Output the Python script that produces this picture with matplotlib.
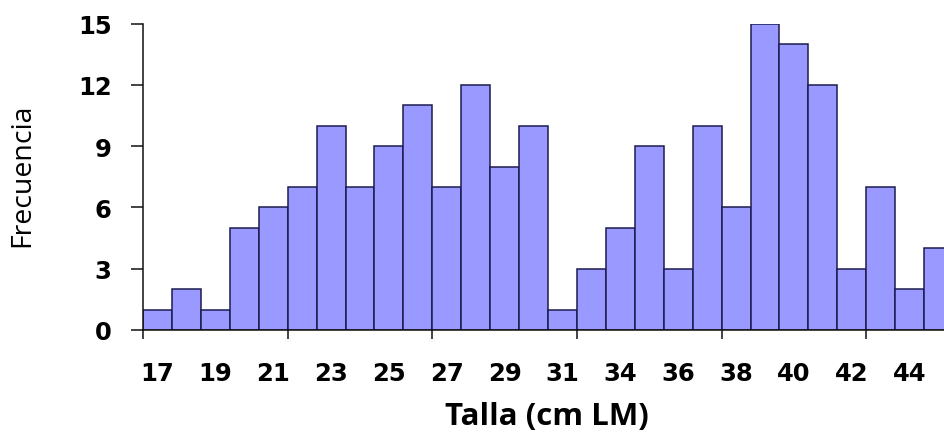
import matplotlib
matplotlib.use("Agg")
import matplotlib.pyplot as plt
import numpy as np

categories = ["17", "18", "19", "20", "21", "22", "23", "24", "25", "26", "27", "28",
              "29", "30", "31", "33", "34", "35", "36", "37", "38", "39", "40", "41",
              "42", "43", "44", "45"]
values = [1, 2, 1, 5, 6, 7, 10, 7, 9, 11, 7, 12, 8, 10, 1, 3, 5, 9, 3, 10, 6, 15,
          14, 12, 3, 7, 2, 4]
yticks = [0, 3, 6, 9, 12, 15]

W, H = 944, 439
fig = plt.figure(figsize=(W / 100, H / 100), dpi=100)
left_px, right_px, top_px, bot_px = 143, 944, 24.7, 331
ax = fig.add_axes([left_px / W, 1 - bot_px / H, (right_px - left_px) / W, (bot_px - top_px) / H])

x = np.arange(len(values))
ax.bar(x, values, width=1.0, color="#9999ff", edgecolor="#1c1c50", linewidth=1.1)

barw = 28.93
ax.set_xlim(-0.5, -0.5 + (right_px - left_px) / barw)
ax.set_ylim(0, 15)

ax.spines["top"].set_visible(False)
ax.spines["right"].set_visible(False)
for s in ("left", "bottom"):
    ax.spines[s].set_linewidth(1.1)
    ax.spines[s].set_color("#111111")

ax.set_yticks(yticks)
ax.set_yticklabels([str(v) for v in yticks], fontsize=17.5, fontweight="bold",
                   family="DejaVu Sans")
ax.tick_params(axis="y", length=8.6, width=1.1, pad=14, color="#111111")

lab_pos = x[::2]
ax.set_xticks(lab_pos)
ax.set_xticklabels([categories[i] for i in lab_pos], fontsize=17.5, fontweight="bold",
                   family="DejaVu Sans")
ax.tick_params(axis="x", which="major", length=0, pad=22)
ax.set_xticks(np.arange(-0.5, len(values), 5), minor=True)
ax.tick_params(axis="x", which="minor", length=6.5, width=1.1, color="#111111")

fig.text(547 / W, 1 - 417 / H, "Talla (cm LM)", ha="center", va="center",
         fontsize=22.5, fontweight="bold", family="Open Sans")
fig.text(22 / W, 1 - 175 / H, "Frecuencia", ha="center", va="center", rotation=90,
         fontsize=20.5, family="Open Sans")

fig.savefig("out.png", dpi=100)
